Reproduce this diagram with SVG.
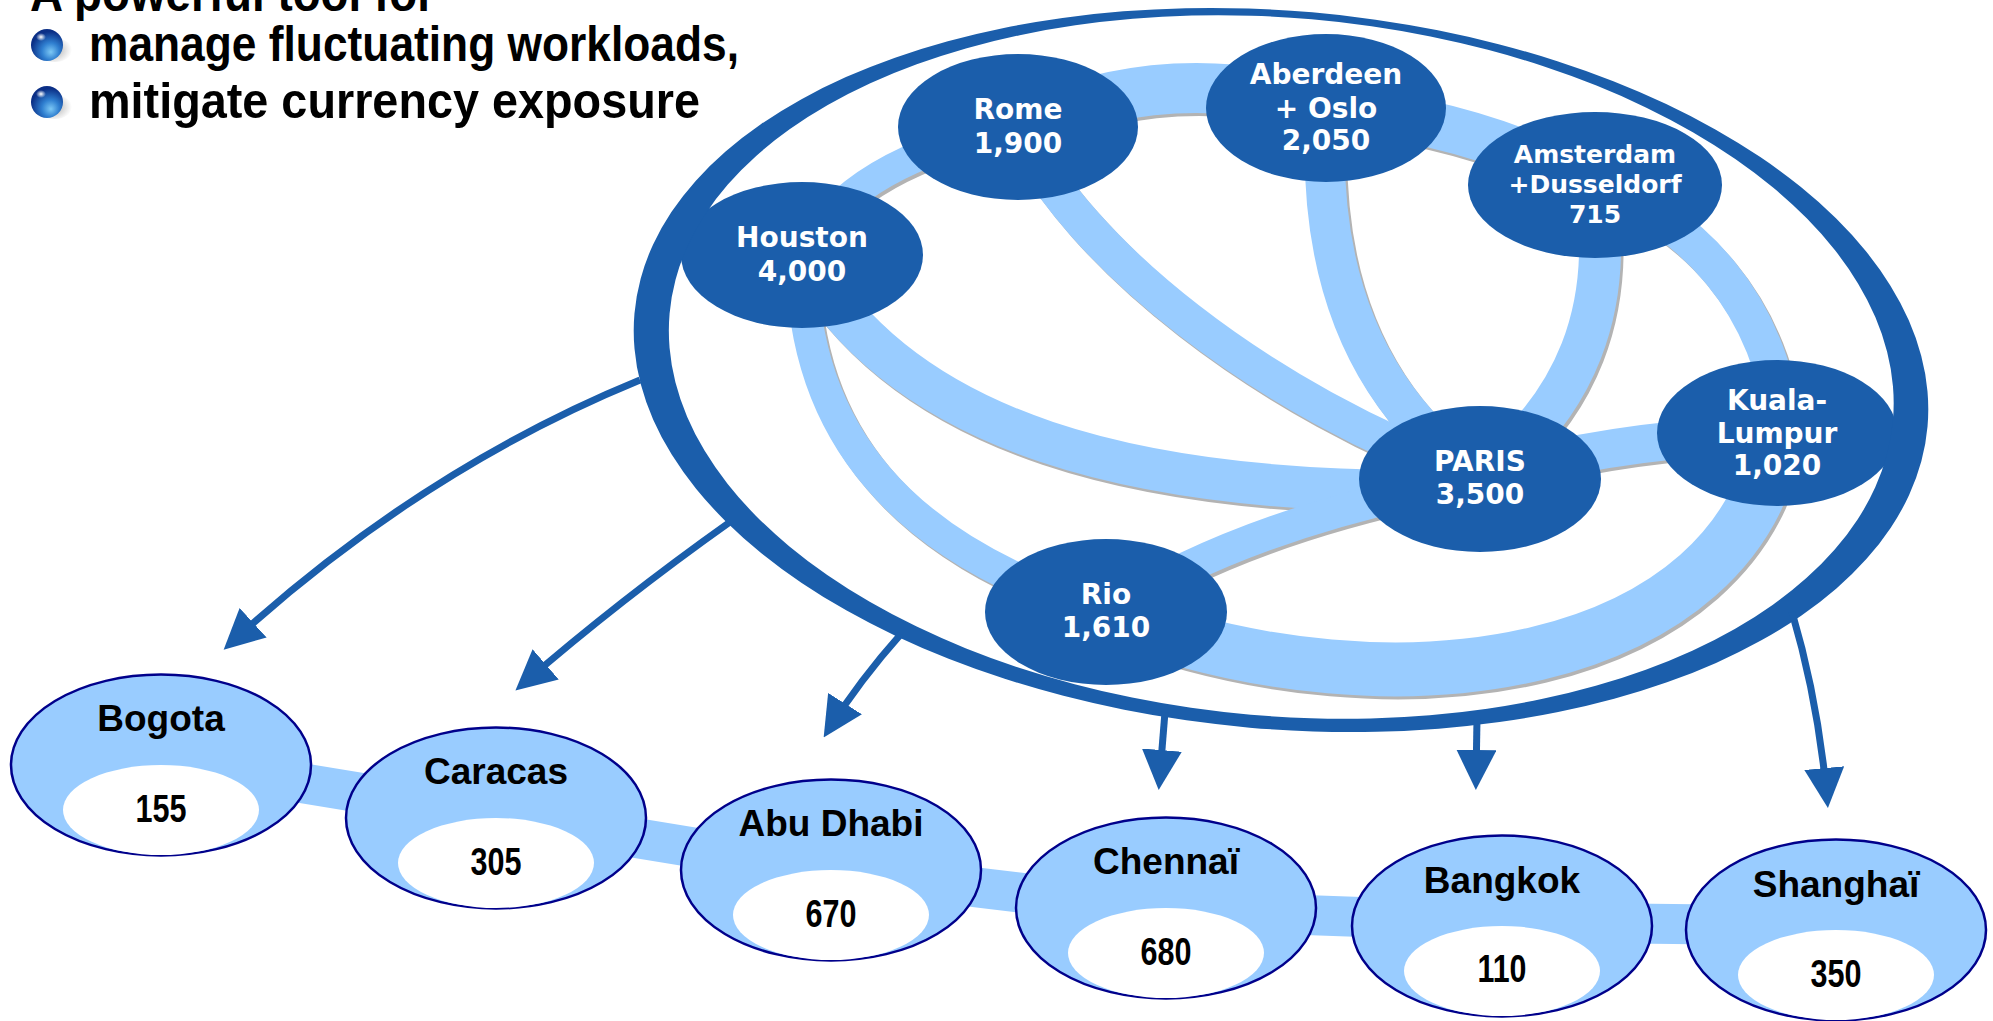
<svg xmlns="http://www.w3.org/2000/svg" xmlns:xlink="http://www.w3.org/1999/xlink" width="1993" height="1021" viewBox="0 0 1993 1021">
<defs>
<style>
.band{fill:none;stroke:#99CCFF}
.shd{fill:none;stroke:#B3B3B3}
.hub{fill:#1B5EAB}
.nt{font-family:"DejaVu Sans","Liberation Sans",sans-serif;font-weight:bold;font-size:28px;fill:#ffffff;text-anchor:middle}
.nts{font-size:25px}
.arrow{fill:none;stroke:#1B5EAB;stroke-width:7;marker-end:url(#ah)}
.co{fill:#99CCFF;stroke:#00008B;stroke-width:2.5}
.ci{fill:#ffffff}
.cn{font-family:"Liberation Sans",Arial,sans-serif;font-weight:bold;font-size:37px;fill:#000000;text-anchor:middle}
.cv{font-family:"Liberation Sans",Arial,sans-serif;font-weight:bold;font-size:39px;fill:#000000;text-anchor:middle}
.head{font-family:"Liberation Sans",Arial,sans-serif;font-weight:bold;font-size:50px;fill:#000000}
</style>
<marker id="ah" markerUnits="userSpaceOnUse" markerWidth="40" markerHeight="40" viewBox="0 0 40 40" refX="30" refY="20" orient="auto">
<path d="M0,0 L40,20 L0,40 Z" fill="#1B5EAB"/>
</marker>
<radialGradient id="ball" cx="60%" cy="68%" r="60%" fx="62%" fy="72%">
<stop offset="0" stop-color="#7cc8f5"/>
<stop offset="0.45" stop-color="#2f7fd0"/>
<stop offset="1" stop-color="#0b2f86"/>
</radialGradient>
<radialGradient id="hl" cx="50%" cy="50%" r="50%">
<stop offset="0" stop-color="#ffffff" stop-opacity="1"/>
<stop offset="1" stop-color="#ffffff" stop-opacity="0"/>
</radialGradient>
<radialGradient id="bsh" cx="40%" cy="50%" r="60%">
<stop offset="0" stop-color="#777777" stop-opacity="0.8"/>
<stop offset="1" stop-color="#999999" stop-opacity="0"/>
</radialGradient>
<path id="b1" d="M 802,255 Q 850,160 1018,127" stroke-width="30"/>
<path id="b2" d="M 1018,127 Q 1170,60 1326,108" stroke-width="50"/>
<path id="b3" d="M 1326,108 Q 1470,120 1595,185" stroke-width="46"/>
<path id="b4" d="M 1595,185 C 1690,220 1770,300 1785,433" stroke-width="36"/>
<path id="b5" d="M 1777,433 C 1740,665 1400,728 1106,614" stroke-width="54"/>
<path id="b6" d="M 802,255 Q 800,520 1106,612" stroke-width="32"/>
<path id="b7" d="M 802,255 C 900,430 1130,500 1480,490" stroke-width="42"/>
<path id="b8" d="M 1018,127 C 1075,250 1260,400 1480,479" stroke-width="36"/>
<path id="b9" d="M 1326,108 Q 1310,360 1480,479" stroke-width="40"/>
<path id="b10" d="M 1595,185 Q 1625,370 1480,479" stroke-width="42"/>
<path id="b11" d="M 1480,479 Q 1600,440 1777,433" stroke-width="38"/>
<path id="b12" d="M 1106,612 Q 1250,520 1480,479" stroke-width="32"/>
</defs>
<rect x="0" y="0" width="1993" height="1021" fill="#ffffff"/>

<g id="heading">
<text class="head" x="30" y="11" textLength="405" lengthAdjust="spacingAndGlyphs">A powerful tool for</text>
<g id="bullet1">
<ellipse cx="55" cy="50" rx="17" ry="12" fill="url(#bsh)"/>
<circle cx="47" cy="45" r="16" fill="url(#ball)"/>
<ellipse cx="41" cy="37" rx="5" ry="4" fill="url(#hl)"/>
</g>
<text class="head" x="89" y="61" textLength="650" lengthAdjust="spacingAndGlyphs">manage fluctuating workloads,</text>
<g id="bullet2">
<ellipse cx="55" cy="107" rx="17" ry="12" fill="url(#bsh)"/>
<circle cx="47" cy="102" r="16" fill="url(#ball)"/>
<ellipse cx="41" cy="94" rx="5" ry="4" fill="url(#hl)"/>
</g>
<text class="head" x="89" y="118" textLength="611" lengthAdjust="spacingAndGlyphs">mitigate currency exposure</text>
</g>

<g id="connectors">
<g class="shd" transform="translate(2.5,3)">
<use xlink:href="#b1"/><use xlink:href="#b2"/><use xlink:href="#b3"/><use xlink:href="#b4"/>
<use xlink:href="#b5"/><use xlink:href="#b6"/><use xlink:href="#b7"/><use xlink:href="#b8"/>
<use xlink:href="#b9"/><use xlink:href="#b10"/><use xlink:href="#b11"/><use xlink:href="#b12"/>
</g>
<g class="band">
<use xlink:href="#b1"/><use xlink:href="#b2"/><use xlink:href="#b3"/><use xlink:href="#b4"/>
<use xlink:href="#b5"/><use xlink:href="#b6"/><use xlink:href="#b7"/><use xlink:href="#b8"/>
<use xlink:href="#b9"/><use xlink:href="#b10"/><use xlink:href="#b11"/><use xlink:href="#b12"/>
</g>
<path id="chain" d="M 161,760 L 496,815 L 831,870 L 1166,910 L 1502,922 L 1836,926" fill="none" stroke="#99CCFF" stroke-width="40" stroke-linejoin="round"/>
</g>

<g id="node-houston"><ellipse class="hub" cx="802" cy="255" rx="121" ry="73"/><text class="nt" x="802" y="247">Houston</text><text class="nt" x="802" y="281">4,000</text></g>
<g id="node-rome"><ellipse class="hub" cx="1018" cy="127" rx="120" ry="73"/><text class="nt" x="1018" y="119">Rome</text><text class="nt" x="1018" y="153">1,900</text></g>
<g id="node-aberdeen"><ellipse class="hub" cx="1326" cy="108" rx="120" ry="74"/><text class="nt" x="1326" y="84">Aberdeen</text><text class="nt" x="1326" y="118">+ Oslo</text><text class="nt" x="1326" y="150">2,050</text></g>
<g id="node-amsterdam"><ellipse class="hub" cx="1595" cy="185" rx="127" ry="73"/><text class="nt nts" x="1595" y="163">Amsterdam</text><text class="nt nts" x="1595" y="193">+Dusseldorf</text><text class="nt nts" x="1595" y="223">715</text></g>
<g id="node-kuala"><ellipse class="hub" cx="1777" cy="433" rx="120" ry="73"/><text class="nt" x="1777" y="410">Kuala-</text><text class="nt" x="1777" y="443">Lumpur</text><text class="nt" x="1777" y="475">1,020</text></g>
<g id="node-paris"><ellipse class="hub" cx="1480" cy="479" rx="121" ry="73"/><text class="nt" x="1480" y="471">PARIS</text><text class="nt" x="1480" y="504">3,500</text></g>
<g id="node-rio"><ellipse class="hub" cx="1106" cy="612" rx="121" ry="73"/><text class="nt" x="1106" y="604">Rio</text><text class="nt" x="1106" y="637">1,610</text></g>

<g id="ring">
<path transform="rotate(5 1281 370)" fill="#1B5EAB" fill-rule="evenodd" d="M 632,370 A 649,359 0 1 1 1930,370 A 649,359 0 1 1 632,370 Z M 667,367 A 614,349 0 1 0 1895,367 A 614,349 0 1 0 667,367 Z"/>
</g>

<g id="arrows">
<path class="arrow" d="M 640,380 Q 420,470 231,643"/>
<path class="arrow" d="M 730,522 Q 620,600 523,684"/>
<path class="arrow" d="M 901,634 Q 860,680 829,729"/>
<path class="arrow" d="M 1165,712 L 1159.5,780"/>
<path class="arrow" d="M 1477,718 L 1476,780"/>
<path class="arrow" d="M 1792,612 Q 1818,700 1827,798"/>
</g>

<g id="node-bogota"><ellipse class="co" cx="161" cy="765" rx="150" ry="90.5"/><ellipse class="ci" cx="161" cy="810" rx="98" ry="45"/><text class="cn" x="161" y="731">Bogota</text><text class="cv" x="161" y="822" textLength="51" lengthAdjust="spacingAndGlyphs">155</text></g>
<g id="node-caracas"><ellipse class="co" cx="496" cy="818" rx="150" ry="90.5"/><ellipse class="ci" cx="496" cy="863" rx="98" ry="45"/><text class="cn" x="496" y="784">Caracas</text><text class="cv" x="496" y="875" textLength="51" lengthAdjust="spacingAndGlyphs">305</text></g>
<g id="node-abudhabi"><ellipse class="co" cx="831" cy="870" rx="150" ry="90.5"/><ellipse class="ci" cx="831" cy="915" rx="98" ry="45"/><text class="cn" x="831" y="836">Abu Dhabi</text><text class="cv" x="831" y="927" textLength="51" lengthAdjust="spacingAndGlyphs">670</text></g>
<g id="node-chennai"><ellipse class="co" cx="1166" cy="908" rx="150" ry="90.5"/><ellipse class="ci" cx="1166" cy="953" rx="98" ry="45"/><text class="cn" x="1166" y="874">Chennaï</text><text class="cv" x="1166" y="965" textLength="51" lengthAdjust="spacingAndGlyphs">680</text></g>
<g id="node-bangkok"><ellipse class="co" cx="1502" cy="926" rx="150" ry="90.5"/><ellipse class="ci" cx="1502" cy="971" rx="98" ry="45"/><text class="cn" x="1502" y="893">Bangkok</text><text class="cv" x="1502" y="982" textLength="49" lengthAdjust="spacingAndGlyphs">110</text></g>
<g id="node-shanghai"><ellipse class="co" cx="1836" cy="930" rx="150" ry="90.5"/><ellipse class="ci" cx="1836" cy="975" rx="98" ry="45"/><text class="cn" x="1836" y="897">Shanghaï</text><text class="cv" x="1836" y="987" textLength="51" lengthAdjust="spacingAndGlyphs">350</text></g>
</svg>
